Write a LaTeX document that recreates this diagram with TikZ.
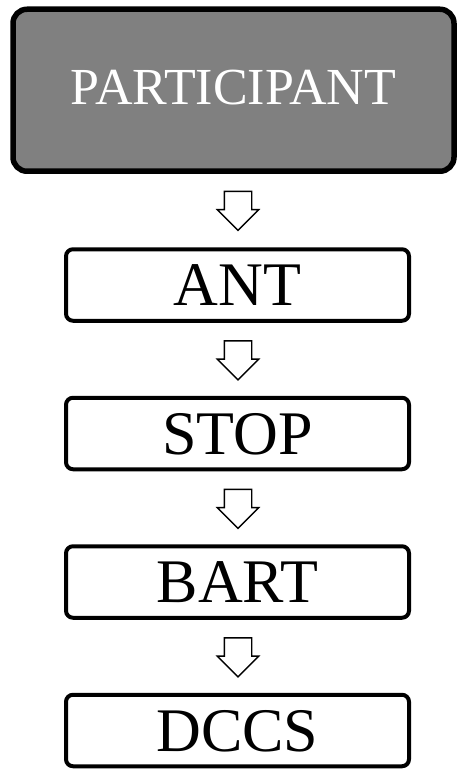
\documentclass[tikz,border=0pt]{standalone}
\usepackage{fontspec}
\setmainfont{Liberation Serif}
\usetikzlibrary{shapes.arrows}
\definecolor{boxgray}{RGB}{128,128,128}
\tikzset{
  headbox/.style={draw=black, line width=5.5pt, fill=boxgray, rounded corners=14pt,
    minimum width=441pt, minimum height=162pt, inner sep=0pt,
    text=white, font=\fontsize{52}{60}\selectfont, text height=34.4pt, text depth=5.5pt},
  stagebox/.style={draw=black, line width=4pt, fill=white, rounded corners=7pt,
    minimum width=343pt, minimum height=71.5pt, inner sep=0pt,
    text=black, font=\fontsize{62}{70}\selectfont, text height=41pt, text depth=0pt},
  downarrow/.style={single arrow, draw=black, line width=1.4pt, fill=white, rotate=-90,
    minimum height=39pt, minimum width=40pt, single arrow head extend=7pt,
    single arrow tip angle=90, inner xsep=0pt, inner ysep=13pt,
    text height=0pt, text depth=0pt}
}
\begin{document}
\begin{tikzpicture}[x=1pt,y=-1pt]
\useasboundingbox (0,0) rectangle (456,770);
\node[headbox] (p) at (233.5,90.25) {PARTICIPANT};
\node[stagebox] (ant) at (237.5,285) {ANT};
\node[stagebox] (stop) at (237.5,433.5) {STOP};
\node[stagebox] (bart) at (237.5,582) {BART};
\node[stagebox] (dccs) at (237.5,730.5) {DCCS};
\node[downarrow] (a1) at (238,204) {};
\node[downarrow] (a2) at (238,353.5) {};
\node[downarrow] (a3) at (238,502) {};
\node[downarrow] (a4) at (238,650.5) {};
\end{tikzpicture}
\end{document}
